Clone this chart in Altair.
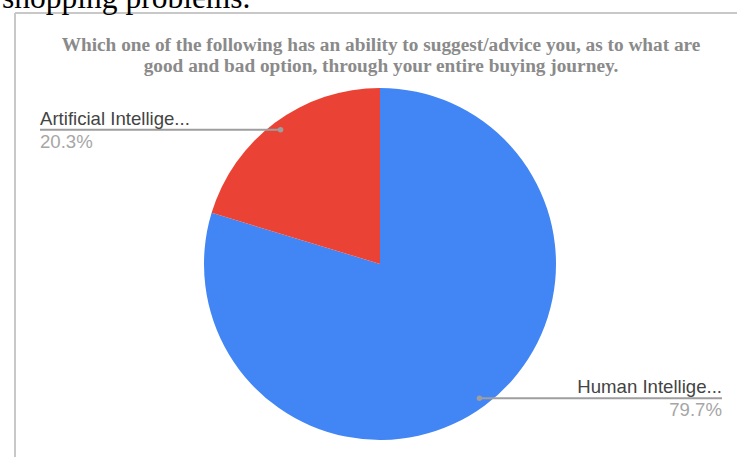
import altair as alt
import pandas as pd

# ---- data ----
categories = ["Human Intelligence", "Artificial Intelligence"]
short_labels = ["Human Intellige...", "Artificial Intellige..."]
shares = [79.7, 20.3]
pct_labels = ["79.7%", "20.3%"]
slice_colors = ["#4285F4", "#EA4335"]
title_lines = [
    "Which one of the following has an ability to suggest/advice you, as to what are",
    "good and bad option, through your entire buying journey.",
]
doc_text = "shopping problems."

df = pd.DataFrame({
    "category": categories,
    "label": short_labels,
    "share": shares,
    "pct": pct_labels,
    "order": list(range(len(categories))),
})

W, H = 737, 457
CX, CY, R = 380, 264, 176
RD = 167          # radius of the leader-line dots
LEFT_X, RIGHT_X = 40, 722

base = alt.Chart(df)

pie = base.mark_arc(outerRadius=R, strokeWidth=0).encode(
    theta=alt.Theta("share:Q", stack=True),
    color=alt.Color("category:N", scale=alt.Scale(domain=categories, range=slice_colors), legend=None),
    order=alt.Order("order:Q"),
    x=alt.value(CX),
    y=alt.value(CY),
)

ann = base.transform_joinaggregate(
    total="sum(share)"
).transform_window(
    cum="sum(share)", sort=[alt.SortField("order")], frame=[None, 0]
).transform_calculate(
    mid="2*PI*(datum.cum - datum.share/2)/datum.total"
).transform_calculate(
    px=f"{CX} + {RD}*sin(datum.mid)",
    py=f"{CY} - {RD}*cos(datum.mid)",
    lx=f"datum.mid < PI ? {RIGHT_X} : {LEFT_X}",
    side="datum.mid < PI ? 'right' : 'left'",
)

leader = ann.mark_rule(color="#9e9e9e", strokeWidth=2).encode(
    x=alt.X("px:Q", scale=None),
    x2="lx:Q",
    y=alt.Y("py:Q", scale=None),
)
dots = ann.mark_circle(color="#9e9e9e", opacity=1, size=30).encode(
    x=alt.X("px:Q", scale=None),
    y=alt.Y("py:Q", scale=None),
)

def side_text(side, align):
    s = ann.transform_filter(f"datum.side == '{side}'")
    name = s.mark_text(align=align, baseline="alphabetic", dy=-5, font="Liberation Sans",
                       fontSize=18.6, color="#444444").encode(
        x=alt.X("lx:Q", scale=None), y=alt.Y("py:Q", scale=None), text="label:N")
    pct = s.mark_text(align=align, baseline="alphabetic", dy=18, font="Liberation Sans",
                      fontSize=18.6, color="#a6a6a6").encode(
        x=alt.X("lx:Q", scale=None), y=alt.Y("py:Q", scale=None), text="pct:N")
    return name + pct

one = alt.Chart(pd.DataFrame({"k": [0]}))

title = one.mark_text(text=title_lines, align="center", baseline="alphabetic", lineHeight=21,
                      font="Liberation Serif", fontSize=19.3, fontWeight="bold",
                      color="#8a8a8a").encode(
    x=alt.value(381), y=alt.value(51))

doc = one.mark_text(text=doc_text, align="left", baseline="alphabetic",
                    font="Liberation Serif", fontSize=31.5, color="#000000").encode(
    x=alt.value(2), y=alt.value(8))

border_left = one.mark_rule(color="#c8c8c8", strokeWidth=2).encode(
    x=alt.value(15), y=alt.value(13), y2=alt.value(H))
border_top = one.mark_rule(color="#c8c8c8", strokeWidth=2).encode(
    x=alt.value(15), x2=alt.value(W), y=alt.value(13))

chart = alt.layer(
    border_left, border_top, doc, title, pie, leader, dots,
    side_text("left", "left"), side_text("right", "right"),
).properties(
    width=W, height=H, padding=0, autosize=alt.AutoSizeParams(type="none"),
    background="white",
).configure_view(stroke=None)

chart.save("out.html", embed_options={"renderer": "svg", "actions": False})
